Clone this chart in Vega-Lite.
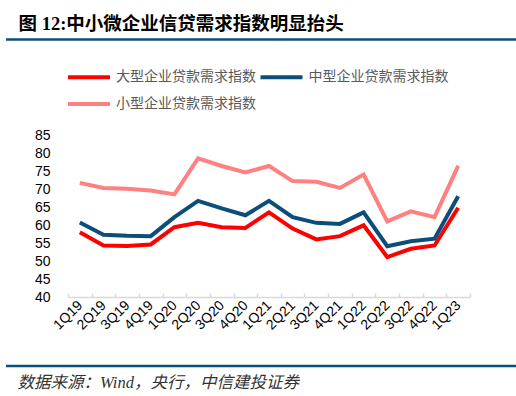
{
  "$schema": "https://vega.github.io/schema/vega-lite/v6.json",
  "autosize": {"type": "none"},
  "width": 402,
  "height": 162,
  "padding": {"left": 68, "top": 135, "right": 46, "bottom": 99},
  "background": "white",
  "config": {
    "view": {"stroke": null},
    "font": "Liberation Sans"
  },
  "data": {
    "values": [
      {"q": "1Q19", "s": "大型企业贷款需求指数", "v": 58.0},
      {"q": "2Q19", "s": "大型企业贷款需求指数", "v": 54.3},
      {"q": "3Q19", "s": "大型企业贷款需求指数", "v": 54.2},
      {"q": "4Q19", "s": "大型企业贷款需求指数", "v": 54.6},
      {"q": "1Q20", "s": "大型企业贷款需求指数", "v": 59.4},
      {"q": "2Q20", "s": "大型企业贷款需求指数", "v": 60.6},
      {"q": "3Q20", "s": "大型企业贷款需求指数", "v": 59.4},
      {"q": "4Q20", "s": "大型企业贷款需求指数", "v": 59.2},
      {"q": "1Q21", "s": "大型企业贷款需求指数", "v": 63.5},
      {"q": "2Q21", "s": "大型企业贷款需求指数", "v": 59.0},
      {"q": "3Q21", "s": "大型企业贷款需求指数", "v": 56.0},
      {"q": "4Q21", "s": "大型企业贷款需求指数", "v": 56.9},
      {"q": "1Q22", "s": "大型企业贷款需求指数", "v": 59.9},
      {"q": "2Q22", "s": "大型企业贷款需求指数", "v": 51.1},
      {"q": "3Q22", "s": "大型企业贷款需求指数", "v": 53.4},
      {"q": "4Q22", "s": "大型企业贷款需求指数", "v": 54.3},
      {"q": "1Q23", "s": "大型企业贷款需求指数", "v": 64.8},
      {"q": "1Q19", "s": "中型企业贷款需求指数", "v": 60.7},
      {"q": "2Q19", "s": "中型企业贷款需求指数", "v": 57.3},
      {"q": "3Q19", "s": "中型企业贷款需求指数", "v": 57.0},
      {"q": "4Q19", "s": "中型企业贷款需求指数", "v": 56.9},
      {"q": "1Q20", "s": "中型企业贷款需求指数", "v": 62.2},
      {"q": "2Q20", "s": "中型企业贷款需求指数", "v": 66.7},
      {"q": "3Q20", "s": "中型企业贷款需求指数", "v": 64.6},
      {"q": "4Q20", "s": "中型企业贷款需求指数", "v": 62.7},
      {"q": "1Q21", "s": "中型企业贷款需求指数", "v": 66.7},
      {"q": "2Q21", "s": "中型企业贷款需求指数", "v": 62.2},
      {"q": "3Q21", "s": "中型企业贷款需求指数", "v": 60.6},
      {"q": "4Q21", "s": "中型企业贷款需求指数", "v": 60.3},
      {"q": "1Q22", "s": "中型企业贷款需求指数", "v": 63.5},
      {"q": "2Q22", "s": "中型企业贷款需求指数", "v": 54.1},
      {"q": "3Q22", "s": "中型企业贷款需求指数", "v": 55.5},
      {"q": "4Q22", "s": "中型企业贷款需求指数", "v": 56.2},
      {"q": "1Q23", "s": "中型企业贷款需求指数", "v": 68.0},
      {"q": "1Q19", "s": "小型企业贷款需求指数", "v": 71.7},
      {"q": "2Q19", "s": "小型企业贷款需求指数", "v": 70.3},
      {"q": "3Q19", "s": "小型企业贷款需求指数", "v": 70.1},
      {"q": "4Q19", "s": "小型企业贷款需求指数", "v": 69.6},
      {"q": "1Q20", "s": "小型企业贷款需求指数", "v": 68.5},
      {"q": "2Q20", "s": "小型企业贷款需求指数", "v": 78.5},
      {"q": "3Q20", "s": "小型企业贷款需求指数", "v": 76.4},
      {"q": "4Q20", "s": "小型企业贷款需求指数", "v": 74.6},
      {"q": "1Q21", "s": "小型企业贷款需求指数", "v": 76.4},
      {"q": "2Q21", "s": "小型企业贷款需求指数", "v": 72.2},
      {"q": "3Q21", "s": "小型企业贷款需求指数", "v": 72.0},
      {"q": "4Q21", "s": "小型企业贷款需求指数", "v": 70.3},
      {"q": "1Q22", "s": "小型企业贷款需求指数", "v": 74.0},
      {"q": "2Q22", "s": "小型企业贷款需求指数", "v": 61.0},
      {"q": "3Q22", "s": "小型企业贷款需求指数", "v": 63.8},
      {"q": "4Q22", "s": "小型企业贷款需求指数", "v": 62.2},
      {"q": "1Q23", "s": "小型企业贷款需求指数", "v": 76.4}
    ]
  },
  "layer": [
    {
      "mark": {"type": "line", "strokeWidth": 4, "strokeJoin": "miter", "strokeCap": "butt"},
      "encoding": {
        "x": {
          "field": "q",
          "type": "ordinal",
          "sort": null,
          "scale": {"paddingInner": 0, "paddingOuter": 0},
          "axis": {
            "title": "数据来源：Wind，央行，中信建投证券",
            "titleX": -51,
            "titleY": 85,
            "titleAlign": "left",
            "titleBaseline": "middle",
            "titleAngle": 0,
            "titleFont": "Liberation Serif, Noto Sans CJK SC",
            "titleFontStyle": "italic",
            "titleFontWeight": "normal",
            "titleFontSize": 16.5,
            "titleColor": "#333333",
            "labelAngle": -45,
            "labelAlign": "right",
            "labelBaseline": "middle",
            "labelFontSize": 14,
            "labelColor": "#000000",
            "labelPadding": 10,
            "domainColor": "#d9d9d9",
            "domainWidth": 1.5,
            "tickColor": "#d9d9d9",
            "tickWidth": 1.5,
            "tickSize": -4,
            "tickBand": "extent",
            "grid": false
          }
        },
        "y": {
          "field": "v",
          "type": "quantitative",
          "scale": {"domain": [40, 85], "nice": false, "zero": false},
          "axis": {
            "title": "图 12:中小微企业信贷需求指数明显抬头",
            "titleX": -50,
            "titleY": -106,
            "titleAngle": 0,
            "titleAlign": "left",
            "titleBaseline": "alphabetic",
            "titleFont": "Liberation Serif, Noto Sans CJK SC",
            "titleFontSize": 18.5,
            "titleFontWeight": "bold",
            "titleColor": "#000000",
            "values": [40, 45, 50, 55, 60, 65, 70, 75, 80, 85],
            "domain": false,
            "ticks": false,
            "tickSize": 0,
            "grid": false,
            "labelFontSize": 14,
            "labelColor": "#000000",
            "labelPadding": 18
          }
        },
        "color": {
          "field": "s",
          "type": "nominal",
          "scale": {
            "domain": ["大型企业贷款需求指数", "中型企业贷款需求指数", "小型企业贷款需求指数"],
            "range": ["#ff0000", "#0d4d7a", "#ff8080"]
          },
          "legend": {
            "title": null,
            "orient": "none",
            "legendX": 8.5,
            "legendY": -70.5,
            "direction": "horizontal",
            "columns": 2,
            "symbolType": "M-2,0H2",
            "symbolSize": 441,
            "symbolStrokeWidth": 4,
            "labelFont": "Noto Sans CJK SC",
            "labelFontSize": 14,
            "labelColor": "#595959",
            "labelOffset": 14.5,
            "labelLimit": 300,
            "columnPadding": -4.5,
            "rowPadding": 6
          }
        }
      }
    },
    {
      "data": {"values": [{}]},
      "mark": {"type": "rule", "strokeWidth": 2.5, "color": "#0d4d7a", "clip": false},
      "encoding": {
        "x": {"value": -62},
        "x2": {"value": 448},
        "y": {"value": -95.5}
      }
    },
    {
      "data": {"values": [{}]},
      "mark": {"type": "rule", "strokeWidth": 2.5, "color": "#0d4d7a", "clip": false},
      "encoding": {
        "x": {"value": -62},
        "x2": {"value": 448},
        "y": {"value": 231}
      }
    }
  ]
}
